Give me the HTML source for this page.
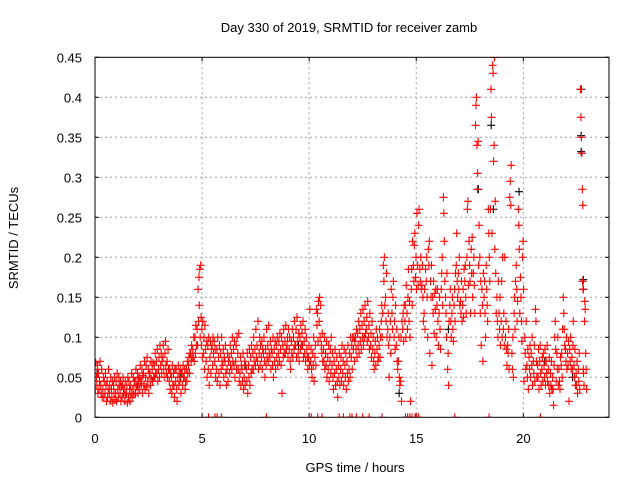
<!DOCTYPE html>
<html><head><meta charset="utf-8"><style>
html,body{margin:0;padding:0;background:#fff;}
svg{display:block;font-family:"Liberation Sans",sans-serif;}
</style></head><body>
<svg id="chart" width="640" height="480" viewBox="0 0 640 480" xmlns="http://www.w3.org/2000/svg">
<defs><clipPath id="pc"><rect x="95" y="57.3" width="514" height="360"/></clipPath></defs>
<text x="349" y="32" font-size="13" text-anchor="middle">Day 330 of 2019, SRMTID for receiver zamb</text>
<text x="355" y="472" font-size="13" text-anchor="middle">GPS time / hours</text>
<text transform="translate(18,238) rotate(-90)" font-size="13" text-anchor="middle">SRMTID / TECUs</text>
<g id="grid"></g>
<g id="ticks"></g>
<g clip-path="url(#pc)">
<g id="black"></g>
<g id="red"></g>
</g>
<rect x="95" y="57.3" width="514" height="360" fill="none" stroke="#000" stroke-width="1"/>
</svg>
<script>
const xTicks=[0,5,10,15,20];
const yTicks=[0,0.05,0.1,0.15,0.2,0.25,0.3,0.35,0.4,0.45];
const yTickLabels=["0","0.05","0.1","0.15","0.2","0.25","0.3","0.35","0.4","0.45"];
const hours=[0.0,0.1,0.2,0.3,0.4,0.5,0.6,0.7,0.8,0.9,1.0,1.1,1.2,1.3,1.4,1.5,1.6,1.7,1.8,1.9,2.0,2.1,2.2,2.3,2.4,2.5,2.6,2.7,2.8,2.9,3.0,3.1,3.2,3.3,3.4,3.5,3.6,3.7,3.8,3.9,4.0,4.1,4.2,4.3,4.4,4.5,4.6,4.7,4.8,4.9,5.0,5.1,5.2,5.3,5.4,5.5,5.6,5.7,5.8,5.9,6.0,6.1,6.2,6.3,6.4,6.5,6.6,6.7,6.8,6.9,7.0,7.1,7.2,7.3,7.4,7.5,7.6,7.7,7.8,7.9,8.0,8.1,8.2,8.3,8.4,8.5,8.6,8.7,8.8,8.9,9.0,9.1,9.2,9.3,9.4,9.5,9.6,9.7,9.8,9.9,10.0,10.1,10.2,10.3,10.4,10.5,10.6,10.7,10.8,10.9,11.0,11.1,11.2,11.3,11.4,11.5,11.6,11.7,11.8,11.9,12.0,12.1,12.2,12.3,12.4,12.5,12.6,12.7,12.8,12.9,13.0,13.1,13.2,13.3,13.4,13.5,13.6,13.7,13.8,13.9,14.0,14.1,14.2,14.3,14.4,14.5,14.6,14.7,14.8,14.9,15.0,15.1,15.2,15.3,15.4,15.5,15.6,15.7,15.8,15.9,16.0,16.1,16.2,16.3,16.4,16.5,16.6,16.7,16.8,16.9,17.0,17.1,17.2,17.3,17.4,17.5,17.6,17.7,17.8,17.9,18.0,18.1,18.2,18.3,18.4,18.5,18.6,18.7,18.8,18.9,19.0,19.1,19.2,19.3,19.4,19.5,19.6,19.7,19.8,19.9,20.0,20.1,20.2,20.3,20.4,20.5,20.6,20.7,20.8,20.9,21.0,21.1,21.2,21.3,21.4,21.5,21.6,21.7,21.8,21.9,22.0,22.1,22.2,22.3,22.4,22.5,22.6,22.7,22.8,22.9];
const srmtid=[
[.045,.06,.035,.068],[.05,.04,.065,.03],[.055,.035,.045,.07],[.04,.03,.06,.025],[.035,.05,.025,.045],[.03,.055,.04,.02],[.045,.025,.035,.06],[.03,.04,.02,.05],[.035,.025,.045,.018],[.04,.03,.05,.022],
[.03,.045,.02,.055],[.035,.025,.05,.04],[.03,.045,.02,.038],[.025,.04,.05,.03],[.035,.02,.045,.028],[.03,.04,.018,.05],[.025,.045,.035,.02],[.04,.03,.055,.025],[.035,.05,.028,.045],[.045,.03,.06,.038],
[.04,.055,.03,.048],[.05,.035,.065,.045],[.042,.06,.03,.052],[.055,.04,.07,.035],[.05,.065,.038,.075],[.045,.06,.03,.055],[.055,.04,.07,.048],[.06,.045,.068,.05],[.065,.05,.08,.055],[.07,.055,.085,.045],
[.06,.075,.05,.09],[.065,.08,.055,.07],[.075,.09,.06,.05],[.08,.095,.065,.055],[.07,.05,.085,.06],[.045,.06,.035,.055],[.05,.03,.065,.04],[.055,.04,.025,.06],[.045,.06,.035,.02],[.05,.065,.04,.055],
[.045,.06,.03,.055],[.055,.04,.065,.05],[.05,.06,.035,.045],[.06,.045,.07,.055],[.065,.075,.055,.08],[.08,.07,.09,.075],[.085,.075,.1,.07],[.1,.08,.115,.09],[.11,.09,.16,.12,.175],[.14,.185,.1,.19,.125],
[.09,.11,.075,.12],[.08,.1,.06,.115],[.085,.07,.095,.05],[.09,.06,.1,.04],[.075,.095,.055,.085],[.09,.065,.1,.08],[.095,.07,.085,.05],[.06,.085,.045,.1],[.075,.055,.09,.04],[.08,.06,.1,.07],
[.065,.085,.05,.075],[.07,.09,.055,.04],[.06,.08,.045,.07],[.075,.055,.09,.065],[.08,.06,.1,.07],[.085,.065,.095,.05],[.07,.09,.06,.1],[.08,.06,.105,.045],[.055,.075,.04,.065],[.06,.045,.08,.035],
[.05,.07,.04,.065],[.06,.045,.08,.03],[.065,.05,.085,.04],[.075,.055,.09,.06],[.08,.06,.1,.07],[.085,.065,.11,.075],[.09,.07,.12,.06],[.08,.1,.065,.09],[.075,.095,.06,.085],[.08,.1,.07,.05],
[.085,.065,.11,.075],[.09,.07,.115,.08],[.075,.095,.06,.085],[.08,.065,.1,.05],[.085,.07,.095,.06],[.09,.075,.1,.065],[.08,.095,.07,.105],[.085,.065,.1,.03],[.09,.075,.11,.08],[.095,.08,.115,.085],
[.09,.1,.075,.11],[.085,.1,.07,.06],[.095,.08,.11,.075],[.1,.085,.12,.09],[.09,.11,.075,.125],[.095,.08,.105,.07],[.1,.085,.115,.09],[.105,.09,.12,.075],[.095,.08,.11,.07],[.1,.085,.075,.06],
[.075,.09,.065,.135],[.07,.085,.06,.05],[.08,.065,.1,.045],[.075,.09,.065,.135],[.115,.13,.095,.145],[.12,.15,.1,.14],[.09,.08,.105,.07],[.085,.07,.1,.06],[.08,.065,.095,.05],[.075,.06,.09,.045],
[.07,.085,.055,.1],[.065,.08,.05,.035],[.07,.055,.085,.04],[.06,.075,.045,.025],[.065,.05,.08,.04],[.06,.075,.045,.09],[.055,.07,.04,.085],[.065,.05,.08,.035],[.07,.055,.09,.045],[.06,.08,.05,.1],
[.075,.09,.06,.1],[.085,.1,.07,.095],[.1,.085,.11,.075],[.105,.09,.12,.08],[.11,.095,.13,.085],[.115,.1,.135,.09],[.12,.1,.14,.105],[.11,.125,.095,.145],[.1,.115,.085,.13],[.09,.105,.075,.12],
[.085,.1,.07,.06],[.08,.095,.065,.11],[.085,.1,.07,.075],[.09,.11,.075,.1],[.12,.14,.1,.13],[.19,.17,.2,.14],[.15,.12,.18,.1],[.11,.13,.09,.05],[.1,.12,.08,.16],[.13,.11,.15,.17],
[.1,.12,.085,.14],[.09,.11,.07,.06],[.07,.1,.05,.04],[.045,.1,.02,.12],[.11,.13,.095,.14],[.12,.14,.1,.165],[.13,.11,.15,.185],[.12,.145,.1,.02],[.16,.185,.14,.22],[.19,.17,.215,.23],
[.175,.2,.16,.255],[.19,.165,.24,.26],[.185,.17,.2,.16],[.165,.19,.15,.12],[.13,.16,.11,.185],[.17,.2,.15,.1],[.21,.19,.22,.08],[.17,.15,.19,.065],[.15,.13,.17,.105],[.155,.135,.16,.1],
[.14,.16,.12,.09],[.13,.15,.11,.085],[.16,.18,.2,.14],[.275,.255,.22,.17],[.15,.13,.1,.18],[.06,.08,.04,.12],[.14,.16,.12,.1],[.13,.15,.11,.095],[.14,.16,.12,.18],[.19,.23,.17,.15],
[.18,.16,.2,.14],[.145,.13,.17,.12],[.14,.16,.125,.185],[.17,.19,.15,.13],[.2,.26,.27,.165],[.22,.19,.17,.13],[.21,.18,.225,.15],[.18,.2,.165,.13],[.365,.39,.4,.34,.285],[.305,.345,.19,.24],
[.2,.13,.17,.09],[.16,.14,.07,.18],[.15,.17,.13,.1],[.19,.16,.14,.12],[.26,.23,.2,.17],[.26,.41,.375,.23],[.44,.43,.32,.34,.45],[.21,.27,.18,.13],[.15,.12,.1,.17],[.13,.11,.15,.09],
[.12,.17,.1,.2],[.11,.13,.09,.2],[.1,.12,.085,.065],[.09,.08,.11,.06],[.275,.295,.265,.315],[.08,.06,.1,.05],[.13,.15,.11,.17],[.19,.16,.12,.145],[.26,.24,.21,.13],[.175,.15,.12,.095],
[.2,.22,.16,.045],[.1,.08,.06,.12],[.065,.05,.085,.035],[.075,.06,.09,.05],[.08,.065,.1,.04],[.07,.055,.09,.045],[.135,.12,.07,.05],[.065,.05,.085,.035],[.07,.09,.055,.04],[.06,.075,.045,.08],
[.065,.05,.085,.04],[.07,.055,.09,.045],[.06,.04,.075,.03],[.055,.04,.07,.035],[.05,.035,.015,.065],[.1,.12,.085,.045],[.08,.06,.1,.04],[.06,.045,.035,.075],[.065,.08,.05,.11],[.15,.13,.11,.09],
[.085,.07,.1,.06],[.08,.065,.095,.02],[.085,.07,.1,.06],[.075,.06,.09,.12],[.065,.05,.085,.04],[.055,.04,.07,.03],[.06,.045,.08,.035],[.41,.375,.35,.33,.285,.265,.06],[.17,.16,.055,.04,.12],[.145,.135,.08,.06,.035]
];
const zeroHours=[5.3,5.6,5.7,5.9,8.0,10.1,10.4,10.6,11.4,11.6,11.9,12.0,12.2,12.5,12.8,13.4,14.5,14.6,14.7,14.8,14.95,15.0,15.1,16.8,18.4,20.8];
const blackHours=[22.7,22.7,22.7,22.8,22.8,18.5,17.9,19.8,18.6,0.1,2.0,4.0,7.0,9.5,12.5,14.2,16.5,21.0,22.3];
const blackValues=[.41,.352,.332,.172,.16,.365,.285,.282,.26,.055,.04,.05,.065,.09,.1,.03,.11,.07,.05];

const NS="http://www.w3.org/2000/svg";
const X0=95,X1=609,Y0=417.3,Y1=57.3,XMAX=24,YMAX=0.45;
function xs(t){return X0+(X1-X0)*t/XMAX;}
function ys(v){return Y0-(Y0-Y1)*v/YMAX;}
function mk(tag,attrs,parent){const e=document.createElementNS(NS,tag);for(const k in attrs)e.setAttribute(k,attrs[k]);parent.appendChild(e);return e;}
const grid=document.getElementById('grid'),ticks=document.getElementById('ticks');
xTicks.forEach(t=>{
  const x=xs(t);
  if(t>0){const g=mk('line',{x1:x,x2:x,y1:Y1,y2:Y0,stroke:'#a0a0a0','stroke-dasharray':'2,3'},grid);
  
  }
  mk('line',{x1:x,x2:x,y1:Y0,y2:Y0-4,stroke:'#000'},ticks);
  mk('line',{x1:x,x2:x,y1:Y1,y2:Y1+4,stroke:'#000'},ticks);
  const l=mk('text',{x:x,y:443,'font-size':13,'text-anchor':'middle'},ticks);l.textContent=t;
  
  
});
yTicks.forEach((v,i)=>{
  const y=ys(v);
  if(v>0&&v<YMAX){const g=mk('line',{x1:X0,x2:X1,y1:y,y2:y,stroke:'#a0a0a0','stroke-dasharray':'2,3'},grid);
  
  }
  mk('line',{x1:X0,x2:X0+4,y1:y,y2:y,stroke:'#000'},ticks);
  mk('line',{x1:X1,x2:X1-4,y1:y,y2:y,stroke:'#000'},ticks);
  const l=mk('text',{x:82,y:y+5,'font-size':13,'text-anchor':'end'},ticks);l.textContent=yTickLabels[i];
  
  
});
function plus(g,t,v,color){
  const x=xs(t),y=ys(v);
  const p=mk('path',{d:`M${x-4},${y}H${x+4}M${x},${y-4}V${y+4}`,stroke:color,'stroke-width':1.1,fill:'none'},g);
  
  
}
const bg=document.getElementById('black'),rg=document.getElementById('red');
blackHours.forEach((t,i)=>plus(bg,t,blackValues[i],'#000'));
hours.forEach((t,i)=>{srmtid[i].forEach((v,j)=>{plus(rg,t+(j-1.5)*0.022,v,'#f00');});});
zeroHours.forEach(t=>plus(rg,t,0,'#f00'));
</script>
</body></html>
